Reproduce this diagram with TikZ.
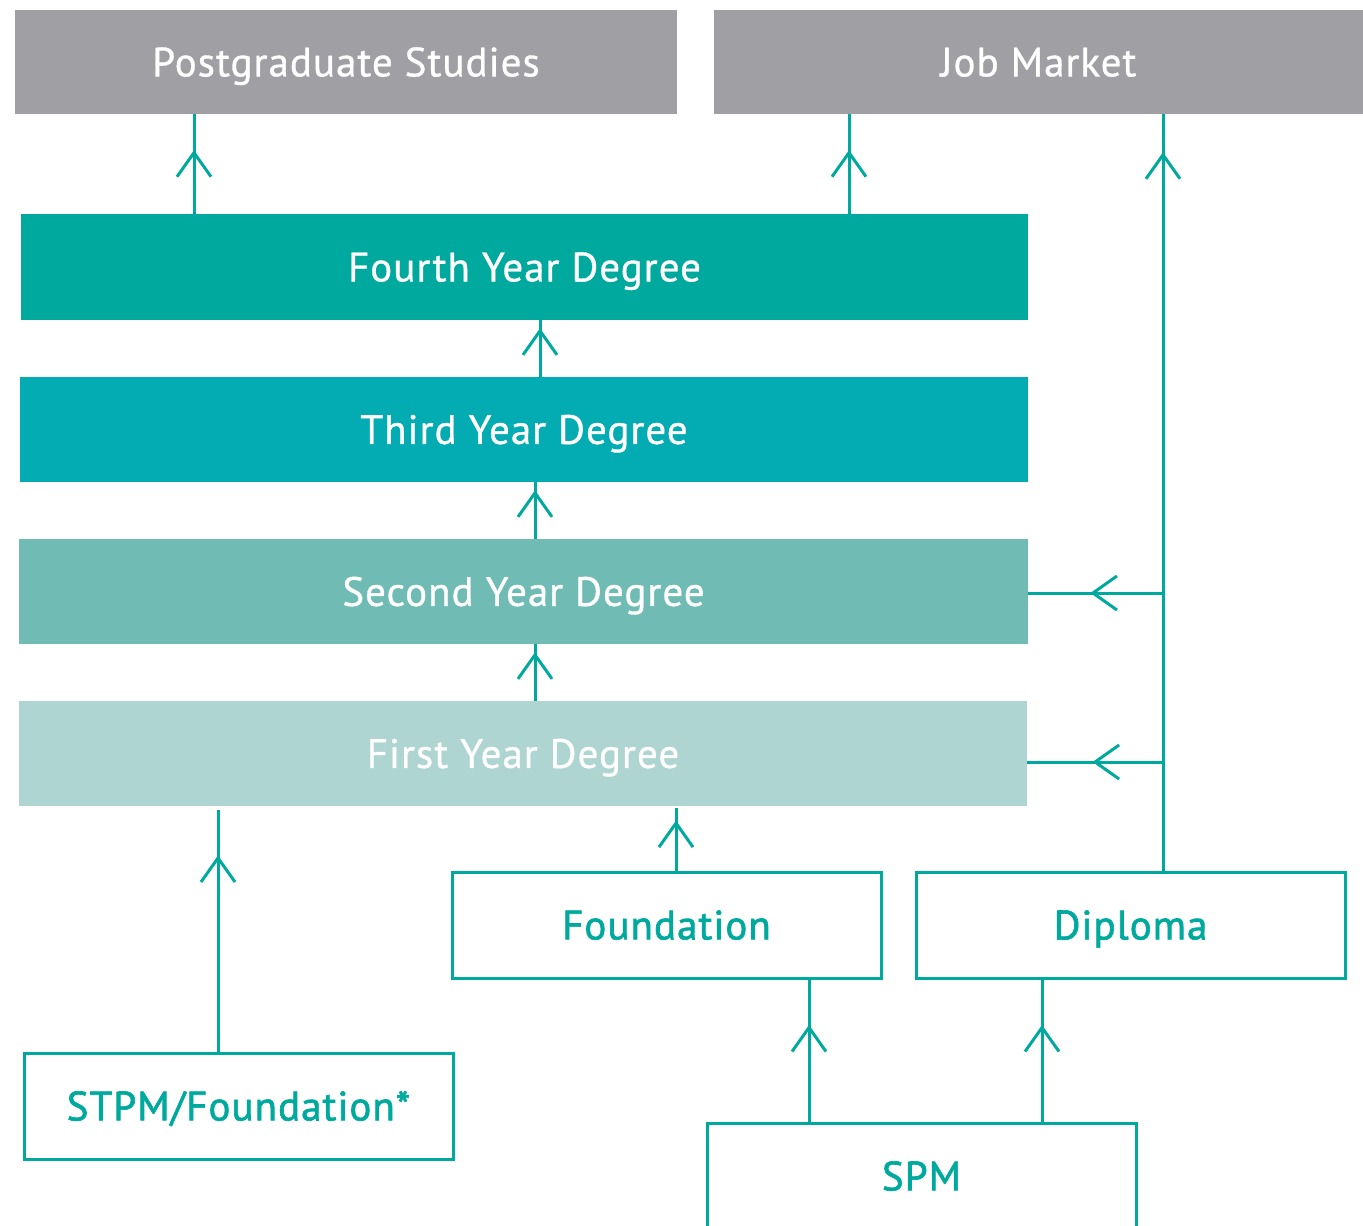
\documentclass[tikz,border=0pt]{standalone}
\usepackage{fontspec}
\setmainfont{PT Sans}
\newfontfamily\boxfont[LetterSpace=2.5,FakeBold=0.8]{PT Sans}
\newfontfamily\routefont[LetterSpace=2.5,FakeBold=1.6]{PT Sans}
\usetikzlibrary{arrows.meta,decorations.markings}

\definecolor{pathgray}{RGB}{160,160,164}
\definecolor{yrfour}{RGB}{0,169,157}
\definecolor{yrthree}{RGB}{3,171,178}
\definecolor{yrtwo}{RGB}{112,188,181}
\definecolor{yrone}{RGB}{174,213,210}
\definecolor{linkteal}{RGB}{0,169,157}

\begin{document}
\begin{tikzpicture}[x=0.5pt,y=-0.5pt,font=\fontsize{20.5}{24}\selectfont,
    fillbox/.style={fill=#1, text=white, inner sep=0pt, minimum height=52.5pt,
        font=\fontsize{20.5}{24}\boxfont, text height=14.4pt, text depth=0pt},
    linebox/.style={draw=linkteal, line width=1.5pt, text=linkteal, inner sep=0pt, minimum width=214.5pt, minimum height=53pt,
        font=\fontsize{20.5}{24}\routefont, text height=14.4pt, text depth=0pt},
    link/.style={draw=linkteal, line width=1.5pt},
    tipat/.style={postaction={decorate, decoration={markings,
        mark=at position #1 with {\arrow[linkteal, line width=1.5pt]{Straight Barb[length=12pt,width=17pt]}}}}}]
    \useasboundingbox (0,0) rectangle (1363,1225);

    % Destinations
    \node[fillbox=pathgray, minimum width=331pt, minimum height=52pt] (pg) at (346,62) {Postgraduate Studies};
    \node[fillbox=pathgray, minimum width=324.5pt, minimum height=52pt] (job) at (1038.5,62) {Job Market};

    % Degree years
    \node[fillbox=yrfour, minimum width=503.5pt, minimum height=53pt] (fourth) at (524.5,267) {Fourth Year Degree};
    \node[fillbox=yrthree, minimum width=504pt] (third) at (524,429.5) {Third Year Degree};
    \node[fillbox=yrtwo, minimum width=504.5pt] (second) at (523.5,591.5) {Second Year Degree};
    \node[fillbox=yrone, minimum width=504pt] (first) at (523,753.5) {First Year Degree};

    % Entry routes
    \node[linebox] (found) at (666.5,925) {Foundation};
    \node[linebox] (dip) at (1130.5,925) {Diploma};
    \node[linebox] (stpm) at (238.5,1106) {STPM/Foundation*};
    \node[linebox] (spm) at (921.5,1176) {SPM};

    % Degree to destinations
    \draw[link, tipat=0.64] (194,0 |- fourth.north) -- (194,0 |- pg.south);
    \draw[link, tipat=0.64] (849,0 |- fourth.north) -- (849,0 |- job.south);

    % Diploma to job market and degree years
    \draw[link, tipat=0.95] (1163,0 |- dip.north) -- (1163,0 |- job.south);
    \coordinate (jtwo) at (1163,593);
    \coordinate (jone) at (1163,762);
    \draw[link, tipat=0.54] (jtwo) -- (second.east |- jtwo);
    \draw[link, tipat=0.52] (jone) -- (first.east |- jone);

    % Year to year
    \draw[link, tipat=0.86] (540,0 |- third.north) -- (540,0 |- fourth.south);
    \draw[link, tipat=0.86] (535,0 |- second.north) -- (535,0 |- third.south);
    \draw[link, tipat=0.86] (535,0 |- first.north) -- (535,0 |- second.south);

    % Entry to first year
    \draw[link, tipat=0.80, shorten >=2pt] (218,0 |- stpm.north) -- (218,0 |- first.south);
    \draw[link, tipat=0.78, shorten >=1pt] (676,0 |- found.north) -- (676,0 |- first.south);

    % SPM to foundation and diploma
    \draw[link, tipat=0.68] (809,0 |- spm.north) -- (809,0 |- found.south);
    \draw[link, tipat=0.68] (1042,0 |- spm.north) -- (1042,0 |- dip.south);
\end{tikzpicture}
\end{document}
